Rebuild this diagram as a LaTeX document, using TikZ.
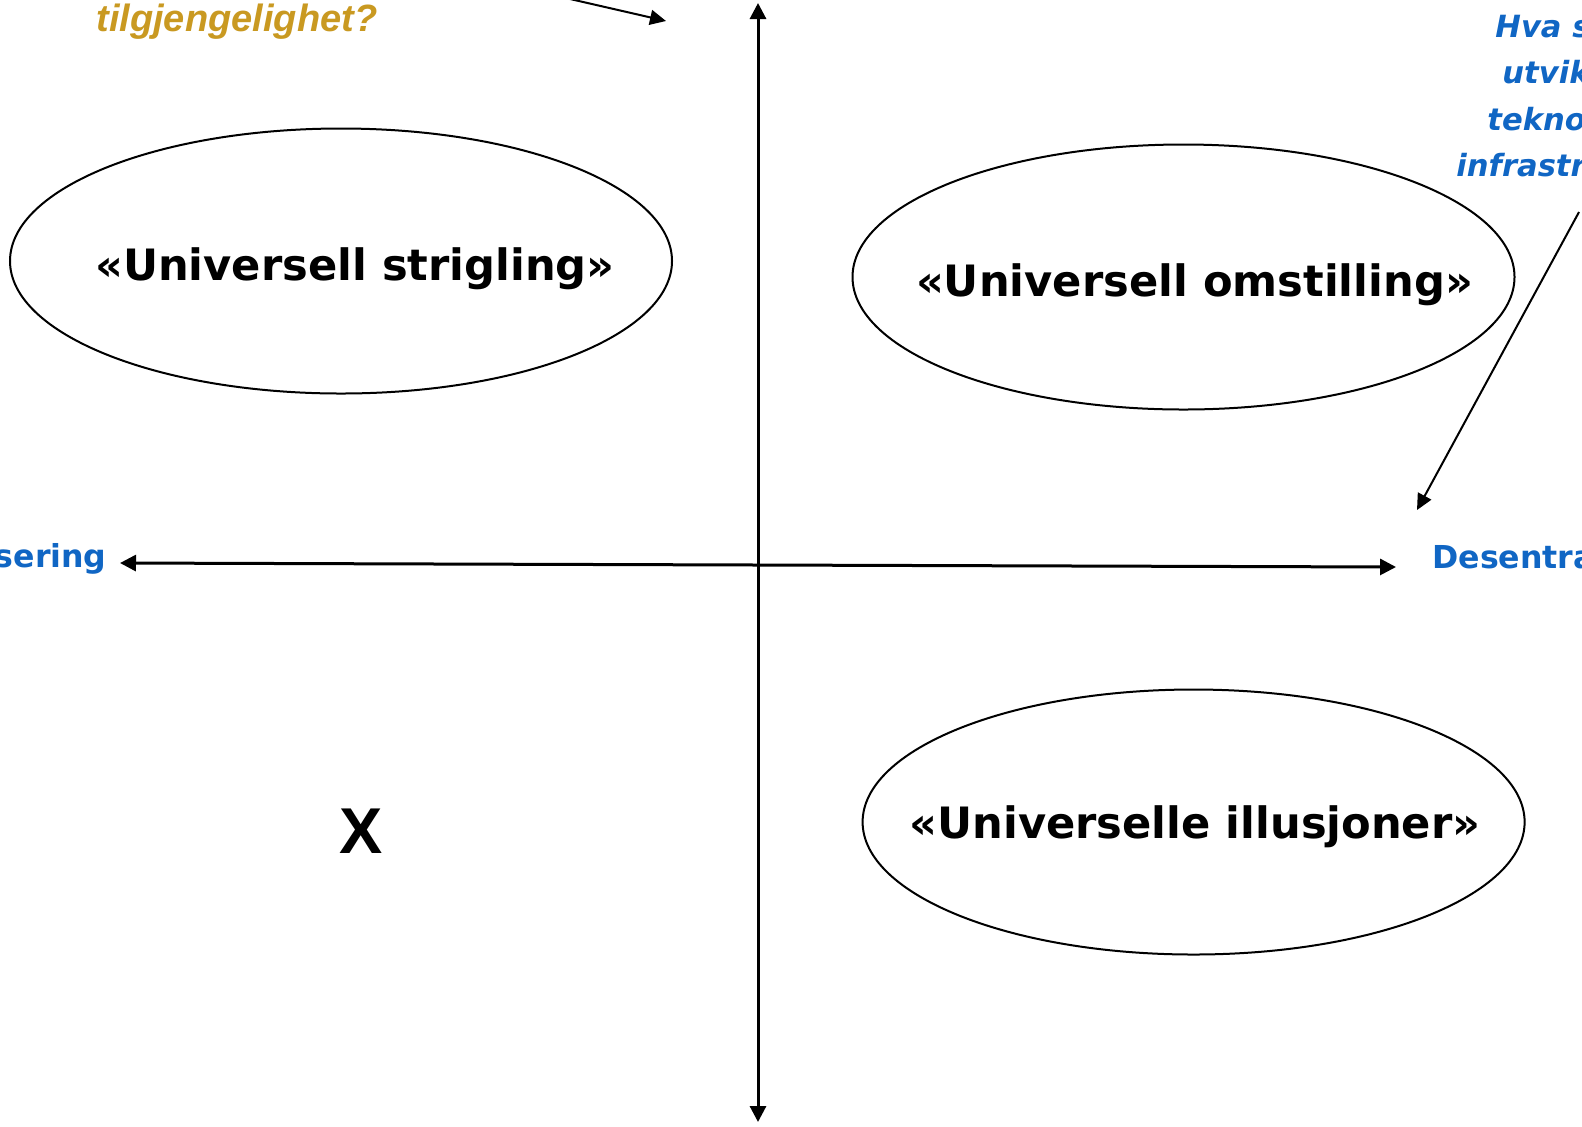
\documentclass[tikz,border=0pt]{standalone}
\usepackage{fontspec}
\newfontfamily\dvs{DejaVu Sans}
\newfontfamily\lib{Liberation Sans}
\usetikzlibrary{shapes.geometric,arrows.meta}
\definecolor{gold}{RGB}{201,153,33}
\definecolor{qblue}{RGB}{16,102,196}
\begin{document}
\begin{tikzpicture}[x=0.5pt,y=-0.5pt,
  ell/.style={ellipse,draw,line width=1pt,minimum width=331pt,minimum height=132.5pt,inner sep=0pt},
  etext/.style={anchor=base,inner sep=0pt,font=\dvs\bfseries\fontsize{21.6pt}{26pt}\selectfont},
  btext/.style={inner sep=0pt,text=qblue,font=\dvs\bfseries\fontsize{15.8pt}{19pt}\selectfont},
  bitext/.style={anchor=base west,inner sep=0pt,text=qblue,font=\dvs\bfseries\itshape\fontsize{15.3pt}{18pt}\selectfont},
  axis/.style={line width=1.5pt,{Triangle[length=8pt,width=8pt]}-{Triangle[length=8pt,width=8pt]}},
  pointer/.style={line width=1pt,-{Triangle[length=8pt,width=7.5pt]}}]
\useasboundingbox (0,0) rectangle (1582,1126);
\clip (0,0) rectangle (1582,1126);
\fill[white] (0,0) rectangle (1582,1126);
% ellipses
\node[ell] (e1) at (341,261) {};
\node[ell] (e2) at (1183.5,277) {};
\node[ell] (e3) at (1193.6,822) {};
\node[etext] (t1) at (355,280) {«Universell strigling»};
\node[etext] (t2) at (1194.5,296.5) {«Universell omstilling»};
\node[etext] (t3) at (1195,838) {«Universelle illusjoner»};
\node[anchor=base,inner sep=0pt,font=\lib\bfseries\fontsize{32.4pt}{38pt}\selectfont] (x) at (361,853) {X};
% axes
\coordinate (vtop) at (758,3);
\coordinate (vbot) at (758,1122);
\coordinate (hl) at (120,563);
\coordinate (hr) at (1396,567);
\draw[axis] (vbot) -- (vtop);
\draw[axis] (hl) -- (hr);
% labels
\node[btext,anchor=base east] (sent) at (107,567) {sering};
\node[btext,anchor=base west] (desent) at (1432,568) {Desentra};
\node[anchor=base west,inner sep=0pt,text=gold,font=\lib\bfseries\itshape\fontsize{19pt}{23pt}\selectfont] (tilg) at (96,31) {tilgjengelighet?};
\node[bitext] (q1) at (1495,37) {Hva s};
\node[bitext] (q2) at (1502,83.5) {utvik};
\node[bitext] (q3) at (1487,130) {tekno};
\node[bitext] (q4) at (1456,176) {infrastr};
% pointers
\coordinate (ta) at (557,-4);
\coordinate (tb) at (666,21);
\draw[pointer] (ta) -- (tb);
\coordinate (ba) at (1579,212);
\coordinate (bb) at (1417,510);
\draw[pointer] (ba) -- (bb);
\end{tikzpicture}
\end{document}
